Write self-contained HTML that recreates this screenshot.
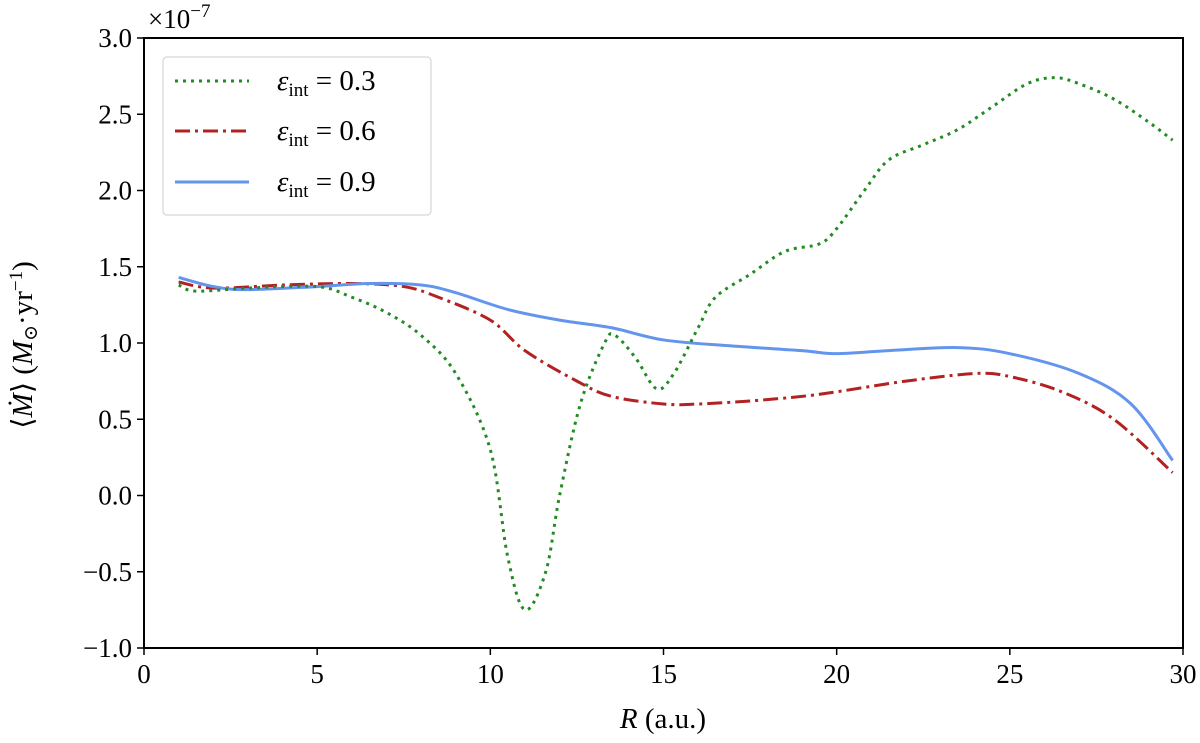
<!DOCTYPE html>
<html><head><meta charset="utf-8"><style>
body{margin:0;background:#fff;}
svg{display:block;font-family:"Liberation Serif","DejaVu Serif",serif;}
</style></head><body>
<svg id="chart" width="1200" height="743" viewBox="0 0 1200 743" xmlns="http://www.w3.org/2000/svg">
<g id="plot"></g>
<g id="axes"></g>
</svg>
<script>
const xTicks=[0,5,10,15,20,25,30];
const yTicks=[-1.0,-0.5,0.0,0.5,1.0,1.5,2.0,2.5,3.0];
const rGreen=[1,1.5,3,5,6,7,8,9,10,10.5,11,11.6,12,12.6,13.3,13.6,14.2,14.8,15.3,16,16.5,17.5,18.5,19.5,20,20.8,21.5,22.5,23.5,24.5,25.5,26.3,27,28,29,29.7];
const vGreen=[1.38,1.34,1.36,1.37,1.3,1.2,1.05,0.8,0.3,-0.4,-0.75,-0.5,0,0.6,1.0,1.05,0.9,0.7,0.8,1.1,1.3,1.45,1.6,1.65,1.75,2.0,2.2,2.3,2.4,2.55,2.7,2.74,2.7,2.6,2.45,2.33];
const rRed=[1,2,4,6,7.5,8.5,10,11,12.5,13.5,15,16,17.5,19,20,22,24,25,26.5,28,29.7];
const vRed=[1.40,1.36,1.38,1.39,1.37,1.3,1.15,0.95,0.75,0.65,0.6,0.6,0.62,0.65,0.68,0.75,0.8,0.78,0.68,0.5,0.15];
const rBlue=[1,2,3,5,6.5,8,9,10.5,12,13.5,15,17,19,20,21.5,23.5,25,27,28.5,29.7];
const vBlue=[1.43,1.37,1.35,1.37,1.39,1.38,1.33,1.22,1.15,1.1,1.02,0.98,0.95,0.93,0.95,0.97,0.93,0.8,0.6,0.23];

const X0=144,X1=1183,Y0=38,Y1=648;
const xs=v=>X0+(v-0)/(30-0)*(X1-X0);
const ys=v=>Y0+(3-v)/(3-(-1))*(Y1-Y0);
const NS="http://www.w3.org/2000/svg";
const plot=document.getElementById('plot'),axes=document.getElementById('axes');
function mk(tag,attrs,parent){const e=document.createElementNS(NS,tag);for(const k in attrs)e.setAttribute(k,attrs[k]);parent.appendChild(e);return e;}
function pathFrom(rs,vs){
  const p=rs.map((r,i)=>[xs(r),ys(vs[i])]);
  let d=`M${p[0][0]},${p[0][1]}`;
  for(let i=0;i<p.length-1;i++){
    const a=p[Math.max(i-1,0)],b=p[i],c=p[i+1],e=p[Math.min(i+2,p.length-1)];
    const c1=[b[0]+(c[0]-a[0])/6,b[1]+(c[1]-a[1])/6],c2=[c[0]-(e[0]-b[0])/6,c[1]-(e[1]-b[1])/6];
    d+=` C${c1[0]},${c1[1]} ${c2[0]},${c2[1]} ${c[0]},${c[1]}`;
  }
  return d;
}
let el;
el=mk('path',{d:pathFrom(rRed,vRed),fill:'none',stroke:'#b22222','stroke-width':3,'stroke-dasharray':'15 5 3 5'},plot);


el=mk('path',{d:pathFrom(rBlue,vBlue),fill:'none',stroke:'#6495ed','stroke-width':3},plot);


el=mk('path',{d:pathFrom(rGreen,vGreen),fill:'none',stroke:'#228b22','stroke-width':3,'stroke-dasharray':'3 5'},plot);



el=mk('rect',{x:X0,y:Y0,width:X1-X0,height:Y1-Y0,fill:'none',stroke:'#000','stroke-width':2},axes);


xTicks.forEach(t=>{
  el=mk('line',{x1:xs(t),x2:xs(t),y1:Y1,y2:Y1+7,stroke:'#000','stroke-width':1.5},axes);
  
  
  el=mk('text',{x:xs(t),y:Y1+35,'font-size':27,'text-anchor':'middle'},axes);el.textContent=t;
  
  
});
yTicks.forEach(t=>{
  el=mk('line',{x1:X0-7,x2:X0,y1:ys(t),y2:ys(t),stroke:'#000','stroke-width':1.5},axes);
  
  
  el=mk('text',{x:X0-12,y:ys(t)+9,'font-size':27,'text-anchor':'end'},axes);el.textContent=(t<0?'\u2212':'')+Math.abs(t).toFixed(1);
  
  
});
</script>
<svg style="position:absolute;left:0;top:0" width="1200" height="743" font-family="Liberation Serif, serif">
<text x="148" y="28" font-size="27">×10<tspan dy="-11" font-size="19">−7</tspan></text>
<text x="663" y="728" font-size="29" text-anchor="middle"><tspan font-style="italic">R</tspan> (a.u.)</text>
<text transform="translate(32,345) rotate(-90)" font-size="29" text-anchor="middle">⟨<tspan font-style="italic">Ṁ</tspan>⟩ (<tspan font-style="italic">M</tspan><tspan font-size="19" dy="5">⊙</tspan><tspan dy="-5">·yr</tspan><tspan dy="-10" font-size="19">−1</tspan><tspan dy="10">)</tspan></text>
<g>
<rect x="163" y="57" width="268" height="158" rx="4" fill="#fff" fill-opacity="0.8" stroke="#ddd" stroke-width="1.5"/>
<line x1="175" x2="249" y1="81" y2="81" stroke="#228b22" stroke-width="3" stroke-dasharray="3 5"/>
<line x1="175" x2="249" y1="131" y2="131" stroke="#b22222" stroke-width="3" stroke-dasharray="15 5 3 5"/>
<line x1="175" x2="249" y1="182" y2="182" stroke="#6495ed" stroke-width="3"/>
<text x="277" y="90" font-size="29"><tspan font-style="italic">ε</tspan><tspan font-size="19" dy="6">int</tspan><tspan dy="-6"> = 0.3</tspan></text>
<text x="277" y="140" font-size="29"><tspan font-style="italic">ε</tspan><tspan font-size="19" dy="6">int</tspan><tspan dy="-6"> = 0.6</tspan></text>
<text x="277" y="191" font-size="29"><tspan font-style="italic">ε</tspan><tspan font-size="19" dy="6">int</tspan><tspan dy="-6"> = 0.9</tspan></text>
</g>
</svg>
</body></html>
